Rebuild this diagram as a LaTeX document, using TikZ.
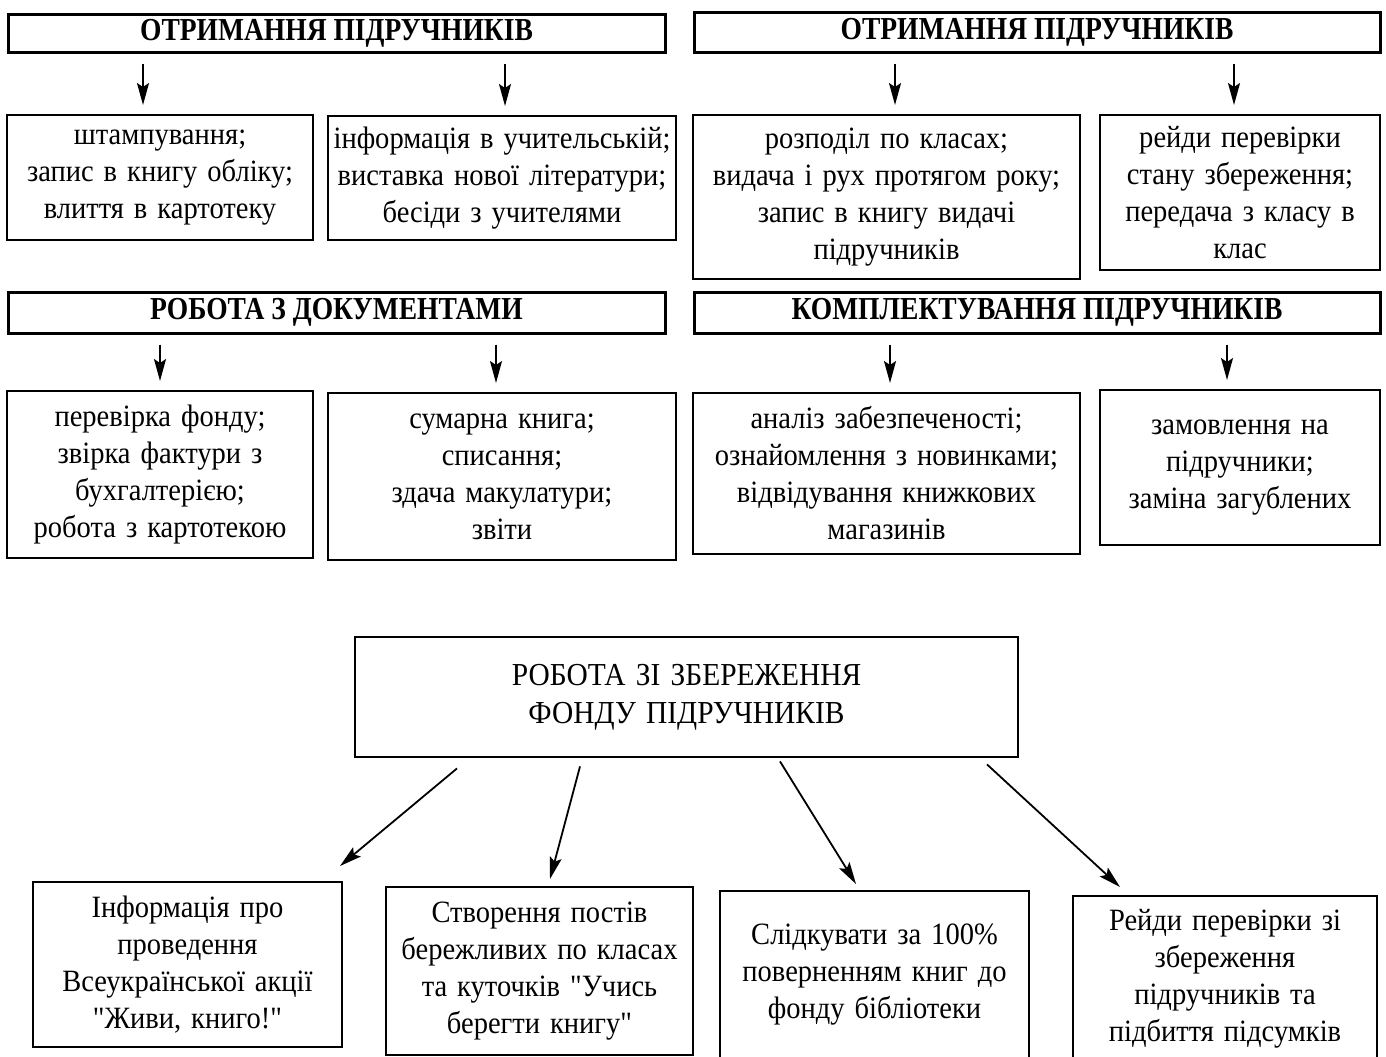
\documentclass[tikz,border=0pt]{standalone}
\usepackage{fontspec}
\setmainfont{Liberation Serif}
\newfontfamily\bodyf{Liberation Serif}[FakeStretch=0.92,WordSpace=1.4]
\newfontfamily\headf{Liberation Serif}[FakeStretch=0.86]
\usetikzlibrary{arrows.meta,calc}
\tikzset{
  box/.style={draw, line width=1pt, align=center, inner sep=0pt,
    font=\bodyf\fontsize{15.5pt}{18.5pt}\selectfont},
  hdr/.style={draw, line width=1.5pt, align=center, inner sep=0pt,
    font=\headf\bfseries\fontsize{16pt}{19pt}\selectfont},
  cbox/.style={draw, line width=1.4pt, align=center, inner sep=0pt,
    font=\bodyf\fontsize{16pt}{19pt}\selectfont},
  arr/.style={line width=0.9pt, -{Stealth[length=11pt,width=6pt,inset=2pt]}},
  varr/.style={arr, shorten <=5pt, shorten >=4.5pt}
}
\newcommand{\bx}[7]{%
  \node[#1, minimum width={(#5-#3)*0.5pt}, minimum height={(#6-#4)*0.5pt}]
    (#2) at ({(#3+#5)/2},{(#4+#6)/2}) {#7};}
\begin{document}
\begin{tikzpicture}[x=0.5pt,y=-0.5pt]
\fill[white] (0,0) rectangle (1386,1056);
\useasboundingbox (0,0) rectangle (1386,1056);

% headers
\bx{hdr}{h1}{8}{14}{665}{52}{ОТРИМАННЯ ПІДРУЧНИКІВ}
\bx{hdr}{h2}{694}{12}{1380}{52}{ОТРИМАННЯ ПІДРУЧНИКІВ}
\bx{hdr}{h3}{8}{292}{665}{333}{РОБОТА З ДОКУМЕНТАМИ}
\bx{hdr}{h4}{694}{292}{1380}{333}{КОМПЛЕКТУВАННЯ ПІДРУЧНИКІВ}

% boxes
\bx{box}{b1}{7}{115}{313}{240}{штампування;\\запис в книгу обліку;\\влиття в картотеку}
\bx{box}{b2}{328}{116}{676}{240}{інформація в учительській;\\виставка нової літератури;\\бесіди з учителями}
\bx{box}{b3}{693}{115}{1080}{279}{розподіл по класах;\\видача і рух протягом року;\\запис в книгу видачі\\підручників}
\bx{box}{b4}{1100}{115}{1380}{270}{рейди перевірки\\стану збереження;\\передача з класу в\\клас}
\bx{box}{b5}{7}{391}{313}{558}{перевірка фонду;\\звірка фактури з\\бухгалтерією;\\робота з картотекою}
\bx{box}{b6}{328}{393}{676}{560}{сумарна книга;\\списання;\\здача макулатури;\\звіти}
\bx{box}{b7}{693}{393}{1080}{554}{аналіз забезпеченості;\\ознайомлення з новинками;\\відвідування книжкових\\магазинів}
\bx{box}{b8}{1100}{390}{1380}{545}{замовлення на\\підручники;\\заміна загублених}

% centre
\bx{cbox}{c}{355}{637}{1018}{757}{РОБОТА ЗІ ЗБЕРЕЖЕННЯ\\ФОНДУ ПІДРУЧНИКІВ}

% bottom
\bx{box}{b9}{33}{882}{342}{1047}{Інформація про\\проведення\\Всеукраїнської акції\\"Живи, книго!"}
\bx{box}{b10}{386}{887}{693}{1055}{Створення постів\\бережливих по класах\\та куточків "Учись\\берегти книгу"}
\bx{box}{b11}{720}{891}{1029}{1058}{Слідкувати за 100\%\\поверненням книг до\\фонду бібліотеки}
\bx{box}{b12}{1073}{896}{1377}{1061}{Рейди перевірки зі\\збереження\\підручників та\\підбиття підсумків}

% vertical arrows
\draw[varr] (h1.south -| 143,0) -- (b1.north -| 143,0);
\draw[varr] (h1.south -| 505,0) -- (b2.north -| 505,0);
\draw[varr] (h2.south -| 895,0) -- (b3.north -| 895,0);
\draw[varr] (h2.south -| 1234,0) -- (b4.north -| 1234,0);
\draw[varr] (h3.south -| 160,0) -- (b5.north -| 160,0);
\draw[varr] (h3.south -| 496,0) -- (b6.north -| 496,0);
\draw[varr] (h4.south -| 890,0) -- (b7.north -| 890,0);
\draw[varr] (h4.south -| 1227,0) -- (b8.north -| 1227,0);

% diagonal arrows
\draw[arr] ($(c.south -| 457,0)+(0,10)$) -- ($(b9.north -| 340,0)+(0,-15)$);
\draw[arr] ($(c.south -| 580,0)+(0,8)$) -- ($(b10.north -| 550,0)+(0,-7)$);
\draw[arr] ($(c.south -| 780,0)+(0,3)$) -- ($(b11.north -| 856,0)+(0,-6)$);
\draw[arr] ($(c.south -| 987,0)+(0,6)$) -- ($(b12.north -| 1120,0)+(0,-8)$);
\end{tikzpicture}
\end{document}
